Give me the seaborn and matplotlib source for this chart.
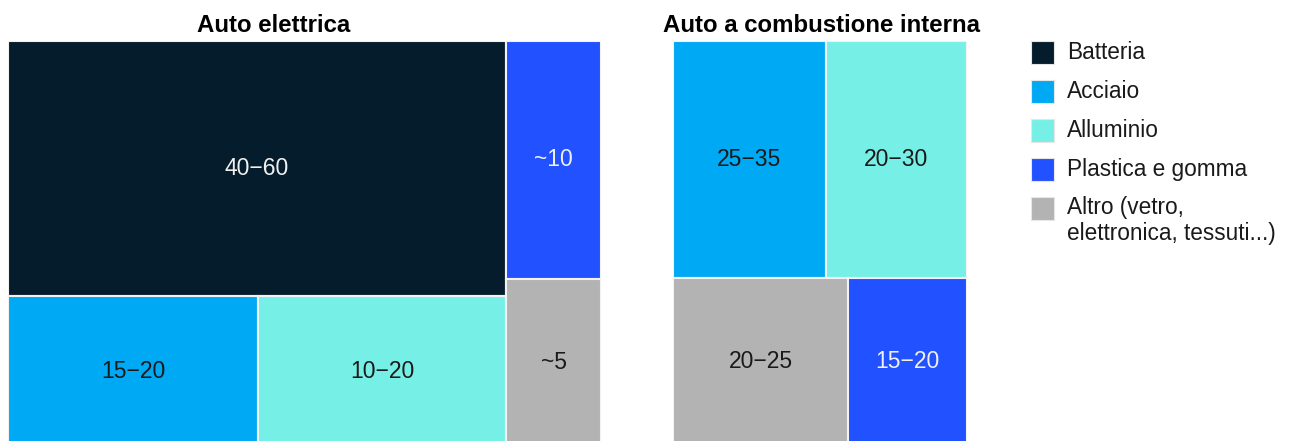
import numpy as np
import pandas as pd
import matplotlib
matplotlib.use("Agg")
import matplotlib.pyplot as plt
from matplotlib.patches import Rectangle
import seaborn as sns

# categories and colours
categories = ["Batteria", "Acciaio", "Alluminio", "Plastica e gomma",
              "Altro (vetro,\nelettronica, tessuti...)"]
palette = ["#051C2C", "#00A9F4", "#76F0E6", "#2251FF", "#B3B3B3"]
text_colors = ["#f0f0f0", "#1a1a1a", "#1a1a1a", "#f0f0f0", "#1a1a1a"]

# share labels shown in each tile (%)
ev_labels = ["40\u221260", "15\u221220", "10\u221220", "~10", "~5"]
ice_labels = ["", "25\u221235", "20\u221230", "15\u221220", "20\u221225"]

# relative tile areas
ev_area = [52.9, 15.6, 15.5, 9.4, 6.6]
ice_area = [0.0, 30.4, 28.1, 16.8, 24.7]

# nesting of the slice-and-dice layout (indices into categories)
ev_tree = [[0, [1, 2]], [3, 4]]      # first split: columns
ice_tree = [[1, 2], [4, 3]]          # first split: rows

sns.set_theme(style="white")
plt.rcParams["font.family"] = ["Liberation Sans", "DejaVu Sans"]

W, H = 1291, 441
fig = plt.figure(figsize=(W / 100, H / 100), dpi=100)


def weight(node, area):
    if isinstance(node, int):
        return area[node]
    return sum(weight(c, area) for c in node)


def slice_dice(node, area, x, y, w, h, horizontal, out):
    if isinstance(node, int):
        out.append((node, x, y, w, h))
        return
    tot = weight(node, area)
    pos = 0.0
    for c in node:
        f = weight(c, area) / tot
        if horizontal:
            slice_dice(c, area, x + pos * w, y, f * w, h, not horizontal, out)
        else:
            slice_dice(c, area, x, y + h - (pos + f) * h, w, f * h, not horizontal, out)
        pos += f


def draw_treemap(ax, tree, area, labels, horizontal):
    tiles = []
    slice_dice(tree, area, 0, 0, 1, 1, horizontal, tiles)
    for i, x, y, w, h in tiles:
        ax.add_patch(Rectangle((x, y), w, h, facecolor=palette[i],
                               edgecolor="#f2f2f2", linewidth=1.5))
        ax.text(x + w / 2, y + h / 2, labels[i], ha="center", va="center",
                fontsize=16.5, color=text_colors[i])
    ax.set_xlim(0, 1)
    ax.set_ylim(0, 1)
    ax.set_axis_off()


def px_axes(x0, x1, y0, y1):
    return fig.add_axes([x0 / W, 1 - y1 / H, (x1 - x0) / W, (y1 - y0) / H])


ax_ev = px_axes(8, 601, 41, 446)
draw_treemap(ax_ev, ev_tree, ev_area, ev_labels, True)
ax_ice = px_axes(673, 967, 41, 446)
draw_treemap(ax_ice, ice_tree, ice_area, ice_labels, False)

fig.text(273.5 / W, 1 - 25 / H, "Auto elettrica", ha="center", va="center",
         fontsize=17.3, fontweight="bold", color="black")
fig.text(821.5 / W, 1 - 25 / H, "Auto a combustione interna", ha="center",
         va="center", fontsize=17.3, fontweight="bold", color="black")

# legend
for k, (name, col) in enumerate(zip(categories, palette)):
    top = 41 + k * 39
    fig.add_artist(Rectangle((1031 / W, 1 - (top + 23) / H), 23 / W, 23 / H,
                             transform=fig.transFigure, facecolor=col,
                             edgecolor="#e6e6e6", linewidth=0.8))
    nlines = name.count("\n") + 1
    yc = top + 11.5 + (nlines - 1) * 12
    fig.text(1067 / W, 1 - yc / H, name, ha="left", va="center",
             fontsize=16.3, color="#1a1a1a", linespacing=1.15)

fig.savefig("out.png", dpi=100)
